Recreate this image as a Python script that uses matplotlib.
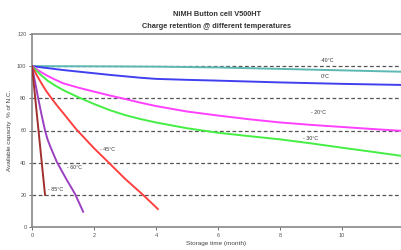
import matplotlib
matplotlib.use("Agg")
import matplotlib.pyplot as plt

plt.rcParams['font.family'] = ['Liberation Sans', 'DejaVu Sans']

# storage time (month) and remaining capacity (% of N.C.) per temperature
t_m40 = [0, 2, 4, 6, 8, 10, 12]
c_m40 = [100, 99.9, 99.7, 99.2, 98.3, 97.4, 96.5]

t_0 = [0, 0.5, 1, 1.5, 2, 2.5, 3, 3.5, 4, 5, 6, 8, 10, 12]
c_0 = [100, 98.8, 97.6, 96.6, 95.6, 94.6, 93.7, 92.8, 92.1, 91.5, 91.0, 89.9, 89.0, 88.3]

t_20 = [0, 0.25, 0.5, 0.75, 1, 1.5, 2, 2.5, 3, 3.5, 4, 5, 6, 7, 8, 9, 10, 11, 12]
c_20 = [100, 96.8, 94, 91.6, 89.4, 86.6, 84.2, 81.8, 79.6, 77.3, 75.2, 71.8, 69.3, 67.0,
        65.0, 63.5, 62.2, 60.9, 59.7]

t_30 = [0, 0.25, 0.5, 0.75, 1, 1.5, 2, 2.5, 3, 3.5, 4, 5, 6, 7, 8, 9, 10, 11, 12]
c_30 = [100, 95.2, 91, 87.9, 85.2, 80.6, 76.5, 72.7, 69.6, 67.1, 65.0, 61.4, 58.6, 56.5,
        54.5, 52.0, 49.3, 46.7, 44.0]

t_45 = [0, 0.15, 0.3, 0.45, 0.63, 0.8, 1.0, 1.2, 1.44, 2.0, 2.45, 3.0, 3.58, 4.06]
c_45 = [100, 94.5, 89.5, 84.8, 80, 75.7, 71, 66.2, 60.5, 49, 40.5, 30, 20, 11.2]

t_60 = [0, 0.1, 0.2, 0.3, 0.42, 0.5, 0.58, 0.7, 0.8, 1.1, 1.39, 1.65]
c_60 = [100, 90, 80, 70.5, 60, 54.5, 50.5, 45, 40.5, 30, 20.5, 9.5]

t_85 = [0, 0.42]
c_85 = [100, 20]

series = [
    (t_m40, c_m40, '#5cb8b2'),
    (t_0, c_0, '#4040f0'),
    (t_20, c_20, '#ff40ff'),
    (t_30, c_30, '#44ee44'),
    (t_45, c_45, '#ff4040'),
    (t_60, c_60, '#9b40c0'),
    (t_85, c_85, '#a03030'),
]

# curve labels: text, x, y
labels = [
    ("-40\u00b0C", 9.3, 103.3),
    ("0\u00b0C", 9.3, 93.5),
    ("- 20\u00b0C", 9.0, 70.9),
    ("- 30\u00b0C", 8.74, 55.3),
    ("- 45\u00b0C", 2.19, 47.9),
    ("- 60\u00b0C", 1.13, 36.7),
    ("- 85\u00b0C", 0.52, 23.6),
]

fig = plt.figure(figsize=(4.01, 2.5), dpi=100)
ax = fig.add_axes([32 / 401, 0.092, 372 / 401, 0.772])

for y in [20, 40, 60, 80, 100]:
    ax.axhline(y, color='#555555', lw=0.9, ls=(0, (3, 2)), zorder=1)

for t, c, col in series:
    ax.plot(t, c, color=col, lw=1.4, zorder=3, solid_joinstyle='round')

for txt, x, y in labels:
    ax.text(x, y, txt, fontsize=3.8, color='#333333', va='center', ha='left')

ax.set_xlim(0, 12)
ax.set_ylim(0, 120)
ax.set_xticks([0, 2, 4, 6, 8, 10, 12])
ax.set_yticks([0, 20, 40, 60, 80, 100, 120])
ax.tick_params(labelsize=4, colors='#555555', length=2, width=0.6, pad=2)

for side in ['left', 'bottom', 'top']:
    ax.spines[side].set_color('#888888')
    ax.spines[side].set_linewidth(1.2)
ax.spines['right'].set_visible(False)

ax.set_xlabel("Storage time (month)", fontsize=4.6, color='#444444', labelpad=2)
ax.set_ylabel("Available capacity  % of N.C.", fontsize=4.6, color='#444444', labelpad=4)
ax.xaxis.set_label_coords(184 / 372, -0.075)

fig.text(0.54, 0.94, "NiMH Button cell V500HT", fontsize=5.3, fontweight='bold',
         color='#333333', ha='center', va='center')
fig.text(0.54, 0.895, "Charge retention @ different temperatures", fontsize=5.3,
         fontweight='bold', color='#333333', ha='center', va='center')

fig.savefig("out.png", dpi=100)
